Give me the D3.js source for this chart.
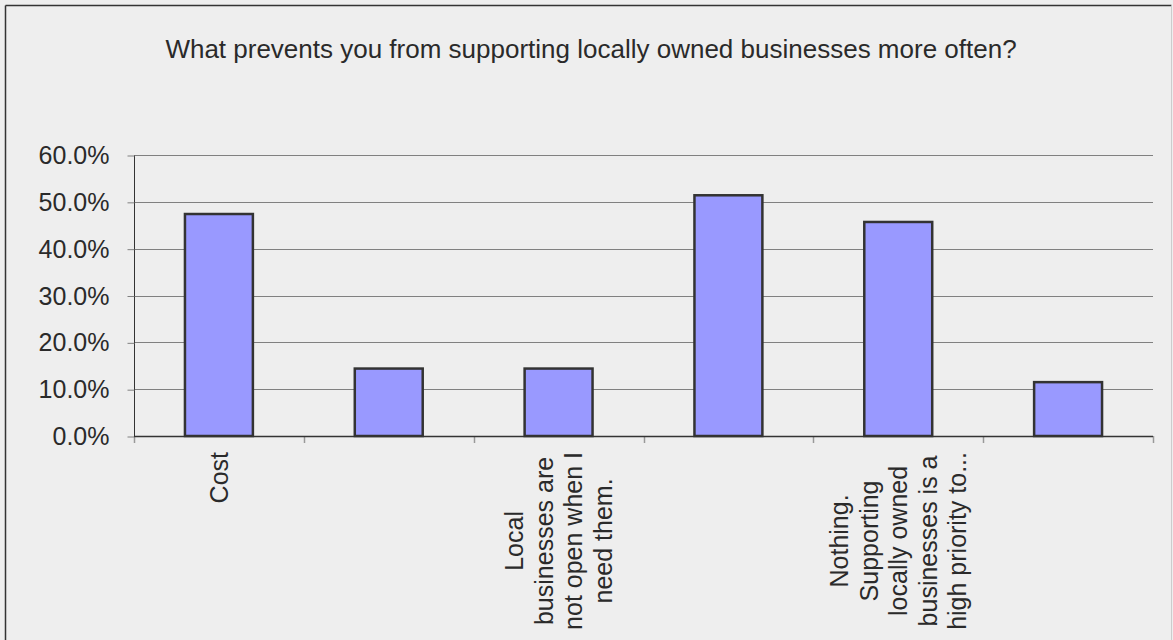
<!DOCTYPE html>
<html>
<head>
<meta charset="utf-8">
<script src="https://cdn.jsdelivr.net/npm/d3@7"></script>
<style>
  html, body { margin: 0; padding: 0; background: #EEEEEE; }
  svg { display: block; }
  text { font-family: "Liberation Sans", Arial, sans-serif; fill: #2a2a2a; }
</style>
</head>
<body>
<svg id="chart" width="1173" height="640"></svg>
<script>
const title = "What prevents you from supporting locally owned businesses more often?";
const categories = ["Cost", "", "Local businesses are not open when I need them.", "", "Nothing. Supporting locally owned businesses is a high priority to...", ""];
const tickLabels = [["Cost"], [], ["Local", "businesses are", "not open when I", "need them."], [], ["Nothing.", "Supporting", "locally owned", "businesses is a", "high priority to..."], []];
const values = [0.474, 0.144, 0.144, 0.514, 0.457, 0.115];
const yTicks = [0, 0.1, 0.2, 0.3, 0.4, 0.5, 0.6];

const W = 1173, H = 640;
const plot = { left: 134, right: 1153, top: 155, bottom: 436 };
const svg = d3.select("#chart");

// background and frame
svg.append("rect").attr("x", 0).attr("y", 0).attr("width", W).attr("height", H).attr("fill", "#EEEEEE");
svg.append("line").attr("x1", 5.5).attr("x2", 5.5).attr("y1", 5.5).attr("y2", H).attr("stroke", "#333").attr("stroke-width", 1.5);
svg.append("line").attr("x1", 5.5).attr("x2", 1171.5).attr("y1", 5.5).attr("y2", 5.5).attr("stroke", "#333").attr("stroke-width", 1.5);
svg.append("line").attr("x1", 1171.5).attr("x2", 1171.5).attr("y1", 5.5).attr("y2", H).attr("stroke", "#cccccc").attr("stroke-width", 1);

const idx = d3.range(categories.length);
const x = d3.scaleBand().domain(idx).range([plot.left, plot.right]).paddingInner(0.6).paddingOuter(0.3);
const xb = d3.scaleBand().domain(idx).range([plot.left, plot.right]).padding(0);
const y = d3.scaleLinear().domain([0, 0.6]).range([plot.bottom, plot.top]);

// gridlines
svg.append("g").selectAll("line").data(yTicks.slice(1)).join("line")
  .attr("x1", plot.left).attr("x2", plot.right)
  .attr("y1", d => Math.round(y(d)) + 0.5).attr("y2", d => Math.round(y(d)) + 0.5)
  .attr("stroke", "#808080").attr("stroke-width", 1);

// y axis
const yAxis = d3.axisLeft(y).tickValues(yTicks).tickFormat(d3.format(".1%")).tickSize(7).tickPadding(18);
const gy = svg.append("g").attr("transform", `translate(${plot.left + 0.5},0.5)`).call(yAxis);
gy.select(".domain").attr("stroke", "#333").attr("d", `M0,${plot.top}V${plot.bottom}`);
gy.selectAll(".tick line").attr("stroke", "#808080");
gy.selectAll(".tick text").attr("font-size", 25).attr("fill", "#2a2a2a").style("font-family", "Liberation Sans, Arial, sans-serif");

// bars
svg.append("g").selectAll("rect").data(values).join("rect")
  .attr("x", (d, i) => x(i)).attr("width", x.bandwidth())
  .attr("y", d => y(d)).attr("height", d => y(0) - y(d))
  .attr("fill", "#9999FF").attr("stroke", "#333333").attr("stroke-width", 2.5);

// x axis line and ticks
const bounds = idx.map(i => xb(i)).concat([plot.right]);
svg.append("g").selectAll("line").data(bounds).join("line")
  .attr("x1", d => Math.round(d) + 0.5).attr("x2", d => Math.round(d) + 0.5)
  .attr("y1", plot.bottom).attr("y2", plot.bottom + 7)
  .attr("stroke", "#999").attr("stroke-width", 1.5);
svg.append("line").attr("x1", plot.left).attr("x2", plot.right)
  .attr("y1", plot.bottom + 0.5).attr("y2", plot.bottom + 0.5)
  .attr("stroke", "#333").attr("stroke-width", 1.5);

// category labels (rotated, wrapped)
const lineGap = 29.5;
const labelTop = 452;
tickLabels.forEach((lines, i) => {
  if (!lines.length) return;
  const cx = xb(i) + xb.bandwidth() / 2;
  const g = svg.append("g");
  const texts = lines.map((ln, k) => {
    const lx = cx + (k - (lines.length - 1) / 2) * lineGap;
    return g.append("text").text(ln)
      .attr("font-size", 25)
      .attr("text-anchor", "middle")
      .attr("dominant-baseline", "central")
      .attr("data-lx", lx);
  });
  const maxLen = d3.max(texts, t => t.node().getComputedTextLength());
  const cy = labelTop + maxLen / 2;
  texts.forEach(t => {
    const lx = +t.attr("data-lx");
    t.attr("transform", `translate(${lx},${cy}) rotate(-90)`);
  });
});

// title
svg.append("text").attr("x", 591).attr("y", 49)
  .attr("text-anchor", "middle").attr("dominant-baseline", "central")
  .attr("font-size", 26).attr("fill", "#222").text(title);
</script>
</body>
</html>
